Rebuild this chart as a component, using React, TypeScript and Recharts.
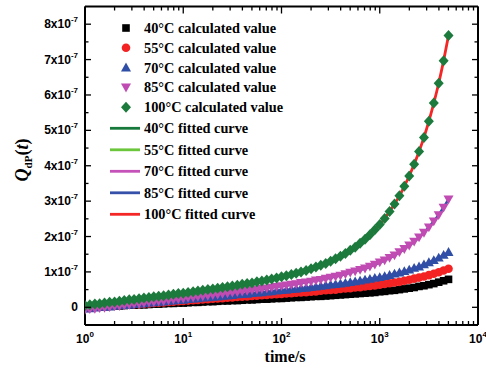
import React from 'react';
import { ComposedChart, Line, XAxis, YAxis, Legend } from 'recharts';

// time (s), sampled on a log grid
const times = [
  1, 1.12, 1.26, 1.41, 1.58, 1.78, 2, 2.24, 2.51, 2.82,
  3.16, 3.55, 3.98, 4.47, 5.01, 5.62, 6.31, 7.08, 7.94, 8.91,
  10, 11.2, 12.6, 14.1, 15.8, 17.8, 20, 22.4, 25.1, 28.2,
  31.6, 35.5, 39.8, 44.7, 50.1, 56.2, 63.1, 70.8, 79.4, 89.1,
  100, 112, 126, 141, 158, 178, 200, 224, 251, 282,
  316, 355, 398, 447, 501, 562, 631, 708, 794, 891,
  1000, 1122, 1259, 1413, 1585, 1778, 1995, 2239, 2512, 2818,
  3162, 3548, 3981, 4467, 5012,
];

// Q_dP(t) in units of 1e-7
const q40 = [
  0.00, 0.01, 0.01, 0.02, 0.02, 0.03, 0.04, 0.04, 0.05, 0.06,
  0.06, 0.07, 0.07, 0.08, 0.09, 0.09, 0.10, 0.11, 0.11, 0.12,
  0.12, 0.13, 0.14, 0.14, 0.15, 0.16, 0.16, 0.17, 0.18, 0.18,
  0.19, 0.19, 0.20, 0.21, 0.21, 0.22, 0.23, 0.23, 0.24, 0.25,
  0.25, 0.26, 0.27, 0.28, 0.28, 0.29, 0.30, 0.31, 0.31, 0.32,
  0.33, 0.34, 0.35, 0.36, 0.37, 0.38, 0.39, 0.40, 0.41, 0.42,
  0.44, 0.45, 0.47, 0.48, 0.50, 0.52, 0.54, 0.56, 0.59, 0.61,
  0.64, 0.67, 0.71, 0.75, 0.79,
];
const q55 = [
  -0.01, 0.00, 0.01, 0.02, 0.03, 0.04, 0.05, 0.06, 0.07, 0.08,
  0.09, 0.09, 0.10, 0.11, 0.12, 0.13, 0.14, 0.15, 0.16, 0.17,
  0.18, 0.19, 0.20, 0.21, 0.22, 0.23, 0.24, 0.25, 0.26, 0.27,
  0.28, 0.29, 0.30, 0.31, 0.32, 0.33, 0.34, 0.35, 0.36, 0.37,
  0.38, 0.39, 0.40, 0.41, 0.42, 0.43, 0.44, 0.45, 0.47, 0.48,
  0.49, 0.50, 0.52, 0.53, 0.54, 0.56, 0.57, 0.59, 0.60, 0.62,
  0.64, 0.66, 0.68, 0.70, 0.72, 0.75, 0.78, 0.81, 0.84, 0.87,
  0.91, 0.95, 0.99, 1.04, 1.09,
];
const q70 = [
  -0.04, -0.03, -0.01, 0.00, 0.01, 0.02, 0.04, 0.05, 0.06, 0.07,
  0.09, 0.10, 0.11, 0.13, 0.14, 0.15, 0.16, 0.18, 0.19, 0.20,
  0.21, 0.23, 0.24, 0.25, 0.27, 0.28, 0.29, 0.30, 0.32, 0.33,
  0.34, 0.36, 0.37, 0.38, 0.40, 0.41, 0.42, 0.44, 0.45, 0.47,
  0.48, 0.49, 0.51, 0.52, 0.54, 0.55, 0.57, 0.58, 0.60, 0.62,
  0.64, 0.65, 0.67, 0.69, 0.71, 0.73, 0.75, 0.78, 0.80, 0.83,
  0.85, 0.88, 0.91, 0.95, 0.98, 1.02, 1.06, 1.11, 1.15, 1.21,
  1.27, 1.33, 1.40, 1.48, 1.56,
];
const q85 = [
  -0.07, -0.05, -0.04, -0.02, -0.01, 0.01, 0.03, 0.04, 0.06, 0.07,
  0.09, 0.10, 0.12, 0.14, 0.15, 0.17, 0.18, 0.20, 0.22, 0.23,
  0.25, 0.27, 0.28, 0.30, 0.31, 0.33, 0.35, 0.36, 0.38, 0.40,
  0.42, 0.43, 0.45, 0.47, 0.49, 0.50, 0.52, 0.54, 0.56, 0.58,
  0.60, 0.62, 0.64, 0.66, 0.69, 0.71, 0.73, 0.76, 0.78, 0.81,
  0.84, 0.87, 0.90, 0.94, 0.98, 1.02, 1.06, 1.10, 1.15, 1.21,
  1.27, 1.33, 1.40, 1.47, 1.56, 1.65, 1.75, 1.86, 1.98, 2.11,
  2.26, 2.43, 2.61, 2.82, 3.05,
];
const q100 = [
  0.05, 0.07, 0.09, 0.10, 0.12, 0.14, 0.15, 0.17, 0.19, 0.21,
  0.22, 0.24, 0.26, 0.28, 0.30, 0.31, 0.33, 0.35, 0.37, 0.39,
  0.40, 0.42, 0.44, 0.46, 0.48, 0.50, 0.52, 0.54, 0.56, 0.58,
  0.60, 0.62, 0.65, 0.67, 0.69, 0.72, 0.74, 0.77, 0.80, 0.83,
  0.86, 0.89, 0.93, 0.96, 1.00, 1.04, 1.09, 1.14, 1.19, 1.24,
  1.30, 1.37, 1.44, 1.52, 1.61, 1.70, 1.81, 1.92, 2.05, 2.19,
  2.34, 2.51, 2.71, 2.92, 3.15, 3.42, 3.71, 4.04, 4.40, 4.80,
  5.26, 5.77, 6.33, 6.97, 7.68,
];

const temps = ['40', '55', '70', '85', '100'];
const keys = ['q40', 'q55', 'q70', 'q85', 'q100'];
const markerKinds = ['square', 'circle', 'triangle', 'down', 'diamond'];
const markerColors = ['#000000', '#f42323', '#2f4ea6', '#c04bb2', '#1b7a3c'];
const fitColors = ['#17793b', '#6cc63c', '#c552b8', '#3550a8', '#f42626'];

const xMajor = [1, 10, 100, 1000, 10000];
const xTicks = [1, 2, 3, 4, 5, 6, 7, 8, 9, 10, 20, 30, 40, 50, 60, 70, 80, 90,
  100, 200, 300, 400, 500, 600, 700, 800, 900, 1000, 2000, 3000, 4000, 5000,
  6000, 7000, 8000, 9000, 10000];
const yTicks = [0, 0.5, 1, 1.5, 2, 2.5, 3, 3.5, 4, 4.5, 5, 5.5, 6, 6.5, 7, 7.5, 8];

const data = times.map((t, i) => ({
  t,
  q40: q40[i],
  q55: q55[i],
  q70: q70[i],
  q85: q85[i],
  q100: q100[i],
}));

const SANS = '"Liberation Sans", Arial, sans-serif';
const SERIF = '"Liberation Serif", "Times New Roman", serif';

const Marker = ({ kind, cx, cy, color }: any) => {
  switch (kind) {
    case 'square':
      return <rect x={cx - 3.8} y={cy - 3.8} width={7.6} height={7.6} fill={color} />;
    case 'circle':
      return <circle cx={cx} cy={cy} r={4.3} fill={color} />;
    case 'triangle':
      return <path d={`M${cx},${cy - 5}L${cx + 5},${cy + 3.8}L${cx - 5},${cy + 3.8}Z`} fill={color} />;
    case 'down':
      return <path d={`M${cx},${cy + 5}L${cx + 5},${cy - 3.8}L${cx - 5},${cy - 3.8}Z`} fill={color} />;
    default:
      return <path d={`M${cx},${cy - 5.5}L${cx + 5},${cy}L${cx},${cy + 5.5}L${cx - 5},${cy}Z`} fill={color} />;
  }
};

const isMajor = (v: number) => xMajor.includes(v);

const BottomTick = ({ x, y, payload }: any) => {
  const v = payload.value;
  const major = isMajor(v);
  return (
    <g>
      <line x1={x} x2={x} y1={y} y2={y - (major ? 7 : 4)} stroke="#000" strokeWidth={1.3} />
      {major && (
        <text x={x} y={y + 18} textAnchor="middle" fontFamily={SANS} fontWeight="bold" fontSize={12} fill="#000">
          <tspan>10</tspan>
          <tspan dy={-6} fontSize={8}>{Math.round(Math.log10(v))}</tspan>
        </text>
      )}
    </g>
  );
};

const TopTick = ({ x, y, payload }: any) => (
  <line x1={x} x2={x} y1={y} y2={y + (isMajor(payload.value) ? 7 : 4)} stroke="#000" strokeWidth={1.3} />
);

const LeftTick = ({ x, y, payload }: any) => {
  const v = payload.value;
  const major = Number.isInteger(v);
  return (
    <g>
      <line x1={x} x2={x + (major ? 6 : 3.5)} y1={y} y2={y} stroke="#000" strokeWidth={1.3} />
      {major && (
        <text x={x - 7} y={y + 4} textAnchor="end" fontFamily={SANS} fontWeight="bold" fontSize={12} fill="#000">
          {v === 0 ? (
            <tspan>0</tspan>
          ) : (
            <>
              <tspan>{v}x10</tspan>
              <tspan dy={-6} fontSize={8}>-7</tspan>
            </>
          )}
        </text>
      )}
    </g>
  );
};

const RightTick = ({ x, y, payload }: any) => (
  <line x1={x} x2={x - (Number.isInteger(payload.value) ? 6 : 3.5)} y1={y} y2={y} stroke="#000" strokeWidth={1.3} />
);

const LegendBox = () => {
  const labelStyle = { fontFamily: SERIF, fontWeight: 'bold' as const, fontSize: 14.3, fill: '#000' };
  return (
    <svg width={220} height={220} style={{ overflow: 'visible' }}>
      {temps.map((tc, i) => {
        const cy = 13 + 19.8 * i;
        return (
          <g key={`c${tc}`}>
            <Marker kind={markerKinds[i]} cx={26} cy={cy} color={markerColors[i]} />
            <text x={44} y={cy + 5} {...labelStyle}>{`${tc}°C calculated value`}</text>
          </g>
        );
      })}
      {temps.map((tc, i) => {
        const cy = 113.3 + 21.5 * i;
        return (
          <g key={`f${tc}`}>
            <line x1={10} x2={40} y1={cy} y2={cy} stroke={fitColors[i]} strokeWidth={2.8} />
            <text x={44} y={cy + 5} {...labelStyle}>{`${tc}°C fitted curve`}</text>
          </g>
        );
      })}
    </svg>
  );
};

export default function App() {
  const axisLine = { stroke: '#000', strokeWidth: 2 };
  return (
    <div style={{ position: 'absolute', left: 0, top: 0, background: '#fff' }}>
      <ComposedChart width={486} height={368} data={data} margin={{ top: 5.5, right: 7, bottom: 0, left: 0 }}>
        <XAxis
          xAxisId="b"
          dataKey="t"
          type="number"
          scale="log"
          domain={[1, 10000]}
          ticks={xTicks}
          interval={0}
          allowDataOverflow
          tickSize={0}
          tickMargin={0}
          tickLine={false}
          axisLine={axisLine}
          height={43}
          tick={<BottomTick />}
        />
        <XAxis
          xAxisId="t"
          orientation="top"
          dataKey="t"
          type="number"
          scale="log"
          domain={[1, 10000]}
          ticks={xTicks}
          interval={0}
          allowDataOverflow
          tickSize={0}
          tickMargin={0}
          tickLine={false}
          axisLine={axisLine}
          height={1}
          tick={<TopTick />}
        />
        <YAxis
          yAxisId="l"
          type="number"
          domain={[-0.5, 8.5]}
          ticks={yTicks}
          interval={0}
          allowDataOverflow
          tickSize={0}
          tickMargin={0}
          tickLine={false}
          axisLine={axisLine}
          width={85}
          tick={<LeftTick />}
        />
        <YAxis
          yAxisId="r"
          orientation="right"
          type="number"
          domain={[-0.5, 8.5]}
          ticks={yTicks}
          interval={0}
          allowDataOverflow
          tickSize={0}
          tickMargin={0}
          tickLine={false}
          axisLine={axisLine}
          width={1}
          tick={<RightTick />}
        />
        <Legend
          layout="vertical"
          align="center"
          verticalAlign="middle"
          content={<LegendBox />}
          wrapperStyle={{ position: 'absolute', left: 100, top: 15, width: 220, height: 220 }}
        />
        {keys.map((k, i) => (
          <Line
            key={`m-${k}`}
            xAxisId="b"
            yAxisId="l"
            dataKey={k}
            stroke="none"
            isAnimationActive={false}
            activeDot={false}
            dot={(p: any) => (
              <Marker key={`${k}-${p.index}`} kind={markerKinds[i]} cx={p.cx} cy={p.cy} color={markerColors[i]} />
            )}
          />
        ))}
        {keys.map((k, i) => (
          <Line
            key={`f-${k}`}
            xAxisId="b"
            yAxisId="l"
            dataKey={k}
            type="monotone"
            stroke={fitColors[i]}
            strokeWidth={2.8}
            dot={false}
            activeDot={false}
            isAnimationActive={false}
          />
        ))}
        <text x={285} y={362} textAnchor="middle" fontFamily={SERIF} fontWeight="bold" fontSize={16} fill="#000">
          time/s
        </text>
        <text
          x={28}
          y={160}
          transform="rotate(-90, 28, 160)"
          textAnchor="middle"
          fontFamily={SERIF}
          fontWeight="bold"
          fontSize={18}
          fill="#000"
        >
          <tspan fontStyle="italic">Q</tspan>
          <tspan fontSize={11} dy={4}>dP</tspan>
          <tspan dy={-4}>(</tspan>
          <tspan fontStyle="italic">t</tspan>
          <tspan>)</tspan>
        </text>
      </ComposedChart>
    </div>
  );
}
